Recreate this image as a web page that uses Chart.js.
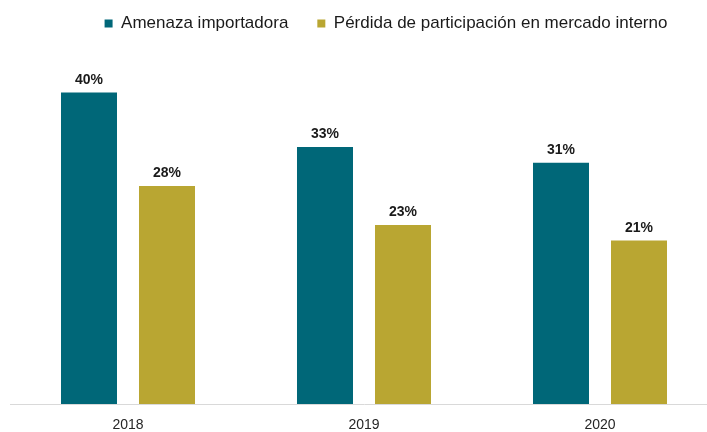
<!DOCTYPE html>
<html>
<head>
<meta charset="utf-8">
<script src="https://cdn.jsdelivr.net/npm/chart.js@4"></script>
<style>
  html, body { margin: 0; padding: 0; background: #fff; overflow: hidden; }
  #wrap { position: relative; width: 707px; height: 432px; overflow: hidden; }
  #chart { position: absolute; left: 0; top: -14px; }
</style>
</head>
<body>
<div id="wrap"><canvas id="chart" width="718" height="460"></canvas></div>
<script>
var years = ["2018", "2019", "2020"]
var amenaza = [40, 33, 31]
var perdida = [28, 23, 21]
var seriesNames = ["Amenaza importadora", "Pérdida de participación en mercado interno"]

var FONT = "'Liberation Sans', Arial, sans-serif"

// value labels above each bar
var barLabels = {
  id: 'barLabels',
  afterDatasetsDraw: function(chart) {
    var ctx = chart.ctx
    ctx.save()
    ctx.font = "bold 14px " + FONT
    ctx.fillStyle = "#1a1a1a"
    ctx.textAlign = "center"
    ctx.textBaseline = "alphabetic"
    chart.data.datasets.forEach(function(ds, i) {
      chart.getDatasetMeta(i).data.forEach(function(bar, j) {
        ctx.fillText(ds.data[j] + "%", bar.x, bar.y - 9)
      })
    })
    ctx.restore()
  }
}

// legend sits a bit right of centre in the original
var legendShift = {
  id: 'legendShift',
  afterLayout: function(chart) {
    var lg = chart.legend
    lg.left += 22
    lg.right += 22
  }
}

var ctx = document.getElementById("chart")
var chart = new Chart(ctx, {
  type: 'bar',
  data: {
    labels: years,
    datasets: [{
      label: seriesNames[0],
      data: amenaza,
      backgroundColor: 'rgb(0, 103, 120)',
      categoryPercentage: 0.661,
      barPercentage: 0.718
    }, {
      label: seriesNames[1],
      data: perdida,
      backgroundColor: 'rgb(185, 166, 50)',
      categoryPercentage: 0.661,
      barPercentage: 0.718
    }]
  },
  options: {
    responsive: false,
    animation: false,
    layout: { padding: { left: 10, right: 0, top: 0, bottom: 0 } },
    plugins: {
      tooltip: { enabled: false },
      legend: {
        position: 'top',
        labels: {
          boxWidth: 8,
          boxHeight: 8,
          padding: 29,
          color: '#1a1a1a',
          font: { family: FONT, size: 17 }
        }
      }
    },
    scales: {
      x: {
        grid: { display: false, drawTicks: false },
        border: { display: true, color: '#d9d9d9', width: 1 },
        ticks: {
          color: '#262626',
          padding: 14,
          font: { family: FONT, size: 14, lineHeight: 1 }
        }
      },
      y: {
        display: false,
        min: 0,
        max: 46.5
      }
    }
  },
  plugins: [barLabels, legendShift]
})
</script>
</body>
</html>
